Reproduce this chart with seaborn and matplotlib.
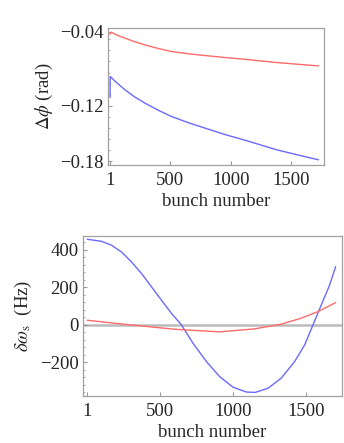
import seaborn as sns
import matplotlib.pyplot as plt
import pandas as pd
from matplotlib.ticker import AutoMinorLocator

# top panel: phase shift along the train
top_red_bunch = [1, 9, 60, 125, 200, 290, 400, 511, 650, 787, 950, 1105, 1381, 1726]
top_red_phi = [-0.0425, -0.0403, -0.0436, -0.0468, -0.0505, -0.0541, -0.0580, -0.0613,
               -0.0637, -0.0656, -0.0677, -0.0695, -0.0732, -0.0768]
top_blue_bunch = [1, 2, 60, 125, 200, 290, 400, 511, 650, 787, 950, 1105, 1381, 1550, 1726]
top_blue_phi = [-0.111, -0.0883, -0.0955, -0.1027, -0.1100, -0.1171, -0.1248, -0.1316,
                -0.1383, -0.1441, -0.1510, -0.1567, -0.1676, -0.1730, -0.1784]

# bottom panel: synchrotron frequency shift
bot_blue_bunch = [1, 99, 168, 236, 304, 373, 441, 509, 578, 646, 725, 817, 907, 998,
                  1090, 1150, 1237, 1328, 1419, 1488, 1545, 1602, 1659, 1700]
bot_blue_hz = [457, 446, 425, 389, 336, 274, 203, 132, 61, 0, -98, -196, -276, -332,
               -358, -360, -338, -284, -196, -107, 0, 107, 213, 311]
bot_red_bunch = [1, 213, 441, 600, 680, 907, 1146, 1328, 1465, 1579, 1700]
bot_red_hz = [25, 7, -11, -23, -27, -37, -21, 4, 36, 71, 119]

sns.set_style("white")
plt.rcParams['font.family'] = ['Liberation Serif', 'DejaVu Serif']
plt.rcParams['mathtext.fontset'] = 'stix'

red = '#ff6a6a'
blue = '#6a6aff'
fs = 13.5

fig = plt.figure(figsize=(3.44, 4.43), dpi=100)
ax1 = fig.add_axes([0.314, 0.628, 0.628, 0.309])
ax2 = fig.add_axes([0.241, 0.107, 0.753, 0.361])

df_tr = pd.DataFrame({'bunch': top_red_bunch, 'v': top_red_phi})
df_tb = pd.DataFrame({'bunch': top_blue_bunch, 'v': top_blue_phi})
sns.lineplot(data=df_tr, x='bunch', y='v', ax=ax1, color=red, lw=1, sort=False)
sns.lineplot(data=df_tb, x='bunch', y='v', ax=ax1, color=blue, lw=1, sort=False)
ax1.set_xlim(-16, 1772)
ax1.set_ylim(-0.1838, -0.0357)
ax1.set_yticks([-0.04, -0.12, -0.18])
ax1.set_yticklabels(['\u22120.04', '\u22120.12', '\u22120.18'])
ax1.set_ylabel(r'$\Delta\phi$ (rad)', fontsize=fs, labelpad=4)

ax2.axhline(0, color='#bbbbbb', lw=1.8, zorder=0)
df_bb = pd.DataFrame({'bunch': bot_blue_bunch, 'v': bot_blue_hz})
df_br = pd.DataFrame({'bunch': bot_red_bunch, 'v': bot_red_hz})
sns.lineplot(data=df_bb, x='bunch', y='v', ax=ax2, color=blue, lw=1, sort=False)
sns.lineplot(data=df_br, x='bunch', y='v', ax=ax2, color=red, lw=1, sort=False)
ax2.set_xlim(-28, 1743)
ax2.set_ylim(-377, 476)
ax2.set_yticks([400, 200, 0, -200])
ax2.set_yticklabels(['400', '200', '0', '\u2212200'])
ax2.set_ylabel(r'$\delta\omega_{\rm s}$  (Hz)', fontsize=fs, labelpad=4)

for ax in (ax1, ax2):
    ax.set_xticks([1, 500, 1000, 1500])
    ax.set_xticklabels(['1', '500', '1000', '1500'])
    ax.set_xlabel('bunch number', fontsize=fs, labelpad=3)
    ax.yaxis.set_minor_locator(AutoMinorLocator(5))
    ax.tick_params(which='both', direction='in', color='#999999', labelsize=fs, pad=3)
    ax.tick_params(axis='x', pad=5)
    ax.tick_params(which='major', length=3)
    ax.tick_params(which='minor', length=1.5)
    ax.tick_params(left=True, bottom=True, which='both')
    for s in ax.spines.values():
        s.set_color('#a0a0a0')
        s.set_linewidth(0.9)

fig.savefig('out.png', dpi=100)
